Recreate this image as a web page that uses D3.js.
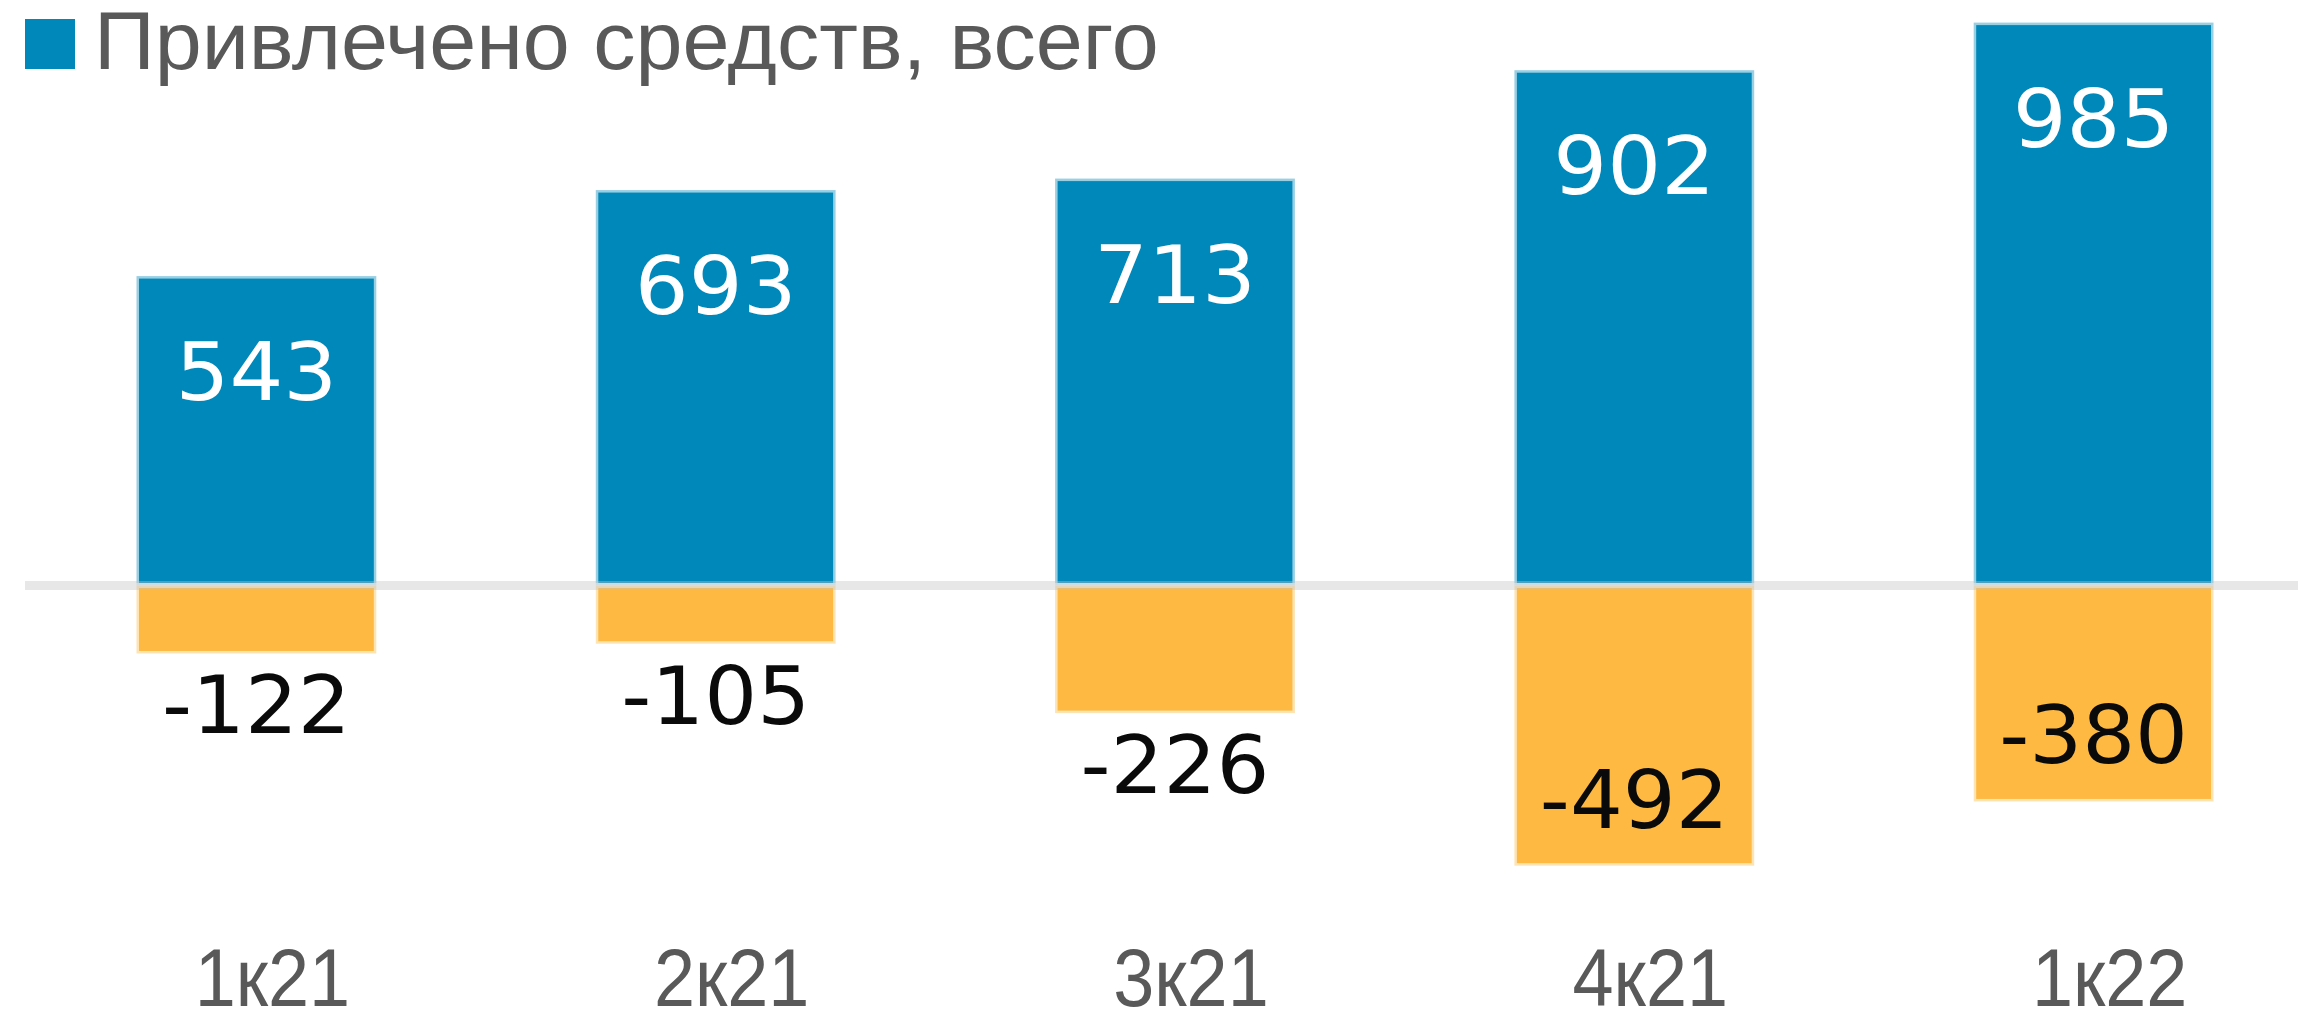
<!DOCTYPE html>
<html>
<head>
<meta charset="utf-8">
<script src="https://cdn.jsdelivr.net/npm/d3@7"></script>
<style>
  body { margin: 0; background: #fff; }
  svg { display: block; }
</style>
</head>
<body>
<svg></svg>
<script>
// chart data
var categories = ["1к21", "2к21", "3к21", "4к21", "1к22"];
var raised = [543, 693, 713, 902, 985];
var outflow = [-122, -105, -226, -492, -380];
var legendLabel = "Привлечено средств, всего";

var width = 2298, height = 1011;

var svg = d3.select("svg")
    .attr("width", width)
    .attr("height", height);

var x = d3.scaleBand()
    .domain(categories)
    .range([134, 2216])
    .paddingInner(0.467)
    .paddingOuter(0);

var y = d3.scaleLinear()
    .domain([-500, 1000])
    .range([872.25, 12]);

var blue = "#0088ba", orange = "#fdb941";

// stretch/squeeze a text to match the original's font width
function squeeze(sel, k) {
    sel.each(function() {
        d3.select(this)
            .attr("textLength", this.getComputedTextLength() * k)
            .attr("lengthAdjust", "spacingAndGlyphs");
    });
}

// bars, with the soft light edge
function drawBars(values, color, cls) {
    svg.selectAll("rect." + cls)
        .data(values)
        .enter().append("rect")
        .attr("class", cls)
        .attr("x", (d, i) => x(categories[i]) + 2.5)
        .attr("width", x.bandwidth() - 5)
        .attr("y", d => Math.min(y(d), y(0)) + (d > 0 ? 2 : 0))
        .attr("height", d => Math.abs(y(d) - y(0)) - 2)
        .style("fill", color)
        .style("stroke", "#fff")
        .style("stroke-opacity", 0.6)
        .style("stroke-width", 5);
}
drawBars(raised, blue, "pos");
drawBars(outflow, orange, "neg");

// zero line on top
svg.append("line")
    .attr("x1", 25).attr("x2", width)
    .attr("y1", y(0)).attr("y2", y(0))
    .style("stroke", "#c4c4c4")
    .style("stroke-opacity", 0.4)
    .style("stroke-width", 9);

// value labels
svg.selectAll("text.pos")
    .data(raised)
    .enter().append("text")
    .attr("class", "pos")
    .attr("x", (d, i) => x(categories[i]) + x.bandwidth() / 2)
    .attr("y", d => y(d) + 126)
    .attr("text-anchor", "middle")
    .style("font-family", "DejaVu Sans")
    .style("font-size", "80px")
    .style("fill", "#fff")
    .text(d => d)
    .call(squeeze, 1.06);

svg.selectAll("text.neg")
    .data(outflow)
    .enter().append("text")
    .attr("class", "neg")
    .attr("x", (d, i) => x(categories[i]) + x.bandwidth() / 2)
    .attr("y", d => d < -300 ? y(d) - 40 : y(d) + 78)
    .attr("text-anchor", "middle")
    .style("font-family", "DejaVu Sans")
    .style("font-size", "80px")
    .style("fill", "#0a0a0a")
    .text(d => d)
    .call(squeeze, 1.04);

// category labels
svg.selectAll("text.cat")
    .data(categories)
    .enter().append("text")
    .attr("class", "cat")
    .attr("x", d => x(d) + x.bandwidth() / 2 + 16)
    .attr("y", 1006)
    .attr("text-anchor", "middle")
    .style("font-family", "Liberation Sans")
    .style("font-size", "82px")
    .style("fill", "#595959")
    .text(d => d)
    .call(squeeze, 0.9);

// legend
svg.append("rect")
    .attr("x", 25).attr("y", 19)
    .attr("width", 50).attr("height", 50)
    .style("fill", blue);

svg.append("text")
    .attr("x", 94).attr("y", 69)
    .style("font-family", "Liberation Sans")
    .style("font-size", "82px")
    .style("fill", "#595959")
    .text(legendLabel)
    .call(squeeze, 1.03);
</script>
</body>
</html>
